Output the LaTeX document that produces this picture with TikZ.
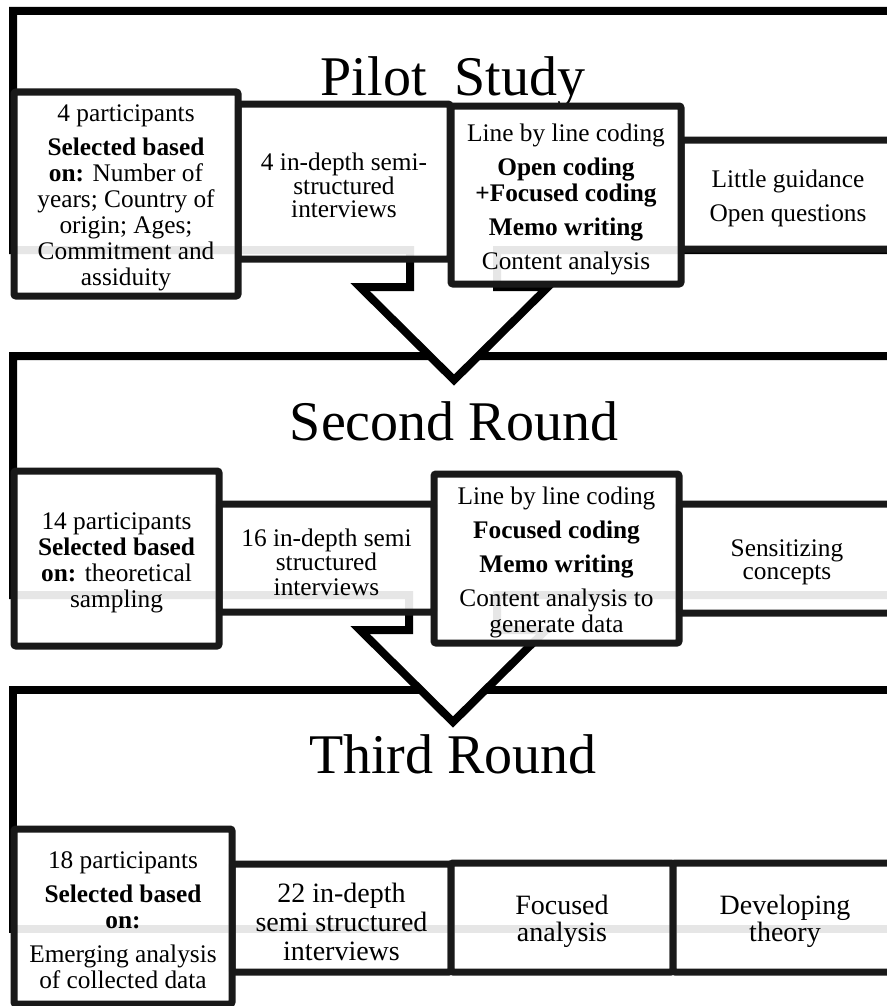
\documentclass[tikz,border=0pt]{standalone}
\usepackage{fontspec}
\setmainfont{Liberation Serif}
\usetikzlibrary{fit,shadows}

\tikzset{
  roundframe/.style={line width=6pt, fill=white, drop shadow={opacity=0.12, shadow xshift=1pt, shadow yshift=-1.5pt}},
  stagebox/.style={draw=black!90, line width=5.25pt, rounded corners=1.5pt, fill=white, fill opacity=0.9, inner sep=0pt},
  stagetext/.style={align=center, inner sep=0pt, yshift=-3pt, font=\fontsize{19}{19.5}\selectfont},
  bigstagetext/.style={stagetext, font=\fontsize{21}{22}\selectfont},
  roundtitle/.style={anchor=base, font=\fontsize{42}{46}\selectfont}
}

\begin{document}
\begin{tikzpicture}[x=0.75pt, y=-0.75pt]

% Fix the page and cut off what runs past the right edge
\useasboundingbox (0,0) rectangle (887,1006);
\clip (0,0) rectangle (887,1006);

% Draw the frame of each round, last one first so the arrows lie on top
\draw [roundframe] (900,690) -- (13,690) -- (13,929) -- (900,929) -- cycle;
\draw [roundframe] (900,356) -- (13,356) -- (13,595) -- (409,595) -- (409,630) -- (360,630) -- (453,722) -- (546,630) -- (497,630) -- (497,595) -- (900,595) -- cycle;
\draw [roundframe] (900,11) -- (13,11) -- (13,250) -- (410,250) -- (410,287) -- (360,287) -- (454,380) -- (548,287) -- (497,287) -- (497,250) -- (900,250) -- cycle;

% Titles
\node [roundtitle] (pilottitle) at (453,95) {Pilot\ \ Study};
\node [roundtitle] (secondtitle) at (454,440) {Second Round};
\node [roundtitle] (thirdtitle) at (453,773) {Third Round};

% Pilot study
\node [stagebox, fit={(238,104) (450,259)}] (pilotinterviews) {};
\node [stagebox, fit={(14,92) (238,296)}] (pilotsample) {};
\node [stagebox, fit={(681,140) (895,249)}] (pilotguide) {};
\node [stagebox, fit={(451,106) (681,284)}] (pilotcoding) {};

\node [stagetext] (pilotinterviewstext) at (pilotinterviews) {4 in-depth semi-\\[-2pt]structured\\[-2pt]interviews};
\node [stagetext] (pilotsampletext) at (pilotsample) {4 participants\\[6pt]\textbf{Selected based}\\\textbf{on:} Number of\\years; Country of\\origin; Ages;\\Commitment and\\assiduity};
\node [stagetext] (pilotguidetext) at (pilotguide) {Little guidance\\[6pt]Open questions};
\node [stagetext] (pilotcodingtext) at (pilotcoding) {Line by line coding\\[6pt]\textbf{Open coding}\\\textbf{+Focused coding}\\[6pt]\textbf{Memo writing}\\[6pt]Content analysis};

% Second round
\node [stagebox, fit={(219,504) (434,612)}] (secondinterviews) {};
\node [stagebox, fit={(14,471) (219,646)}] (secondsample) {};
\node [stagebox, fit={(679,504) (895,613)}] (secondguide) {};
\node [stagebox, fit={(434,474) (679,643)}] (secondcoding) {};

\node [stagetext] (secondinterviewstext) at (secondinterviews) {16 in-depth semi\\[-1pt]structured\\[-1pt]interviews};
\node [stagetext] (secondsampletext) at (secondsample) {14 participants\\\textbf{Selected based}\\\textbf{on:} theoretical\\sampling};
\node [stagetext] (secondguidetext) at (secondguide) {Sensitizing\\[-2pt]concepts};
\node [stagetext] (secondcodingtext) at (secondcoding) {Line by line coding\\[6pt]\textbf{Focused coding}\\[6pt]\textbf{Memo writing}\\[6pt]Content analysis to\\generate data};

% Third round
\node [stagebox, fit={(232,864) (451,972)}] (thirdinterviews) {};
\node [stagebox, fit={(14,829) (232,1004)}] (thirdsample) {};
\node [stagebox, fit={(451,863) (673,972)}] (thirdanalysis) {};
\node [stagebox, fit={(673,863) (897,972)}] (thirdtheory) {};

\node [bigstagetext] (thirdinterviewstext) at (thirdinterviews) {22 in-depth\\semi structured\\interviews};
\node [stagetext] (thirdsampletext) at (thirdsample) {18 participants\\[6pt]\textbf{Selected based}\\\textbf{on:}\\[6pt]Emerging analysis\\of collected data};
\node [bigstagetext] (thirdanalysistext) at (thirdanalysis) {Focused\\[-2pt]analysis};
\node [bigstagetext] (thirdtheorytext) at (thirdtheory) {Developing\\[-2pt]theory};

\end{tikzpicture}
\end{document}
